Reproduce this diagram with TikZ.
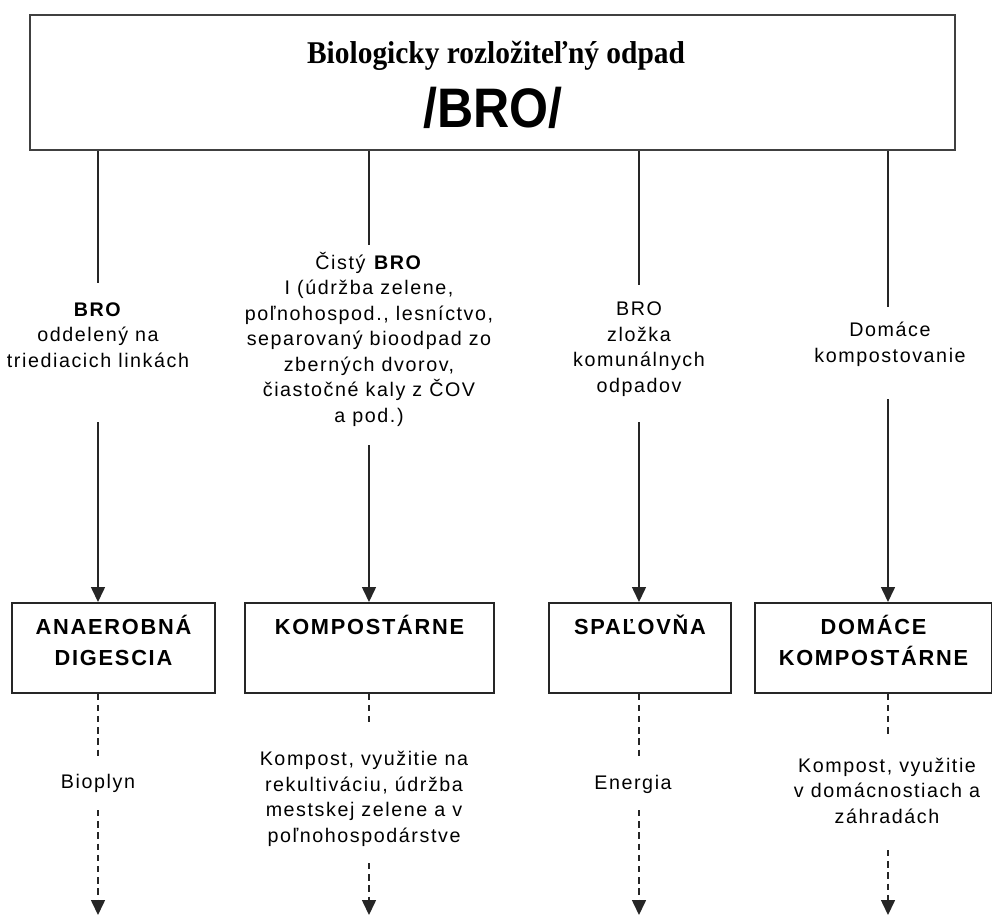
\documentclass[tikz,border=0pt]{standalone}
\usepackage{fontspec}
\setmainfont{Liberation Sans}[LetterSpace=8]
\newfontfamily\titlefont{Liberation Serif}[FakeStretch=0.93]
\newfontfamily\abbrfont{Liberation Sans}[FakeStretch=0.9]
\usetikzlibrary{arrows.meta}
\tikzset{
  hlavny/.style={draw=black!75, line width=1.5pt, inner sep=0pt},
  zariadenie/.style={draw=black!85, line width=1.1pt, inner sep=0pt, anchor=north, align=center,
    text height=0.8cm, text depth=1.45cm,
    font=\addfontfeatures{LetterSpace=8}\bfseries\fontsize{15.5}{22}\selectfont},
  dvariadky/.style={text height=1.575cm, text depth=0.675cm},
  popis/.style={anchor=base, align=center, inner sep=0pt, font=\fontsize{14}{18.1}\selectfont},
  tok/.style={draw=black!85, line width=1.1pt},
  sipka/.style={tok, -{Triangle[width=0.35cm,length=0.375cm]}},
  vystup/.style={sipka, dash pattern=on 0.16cm off 0.12cm},
}
\begin{document}
\begin{tikzpicture}[x=0.025cm, y=-0.025cm]
\useasboundingbox (0,0) rectangle (992,916);
% Biologicky rozlozitelny odpad a jeho spracovanie
\node[hlavny, minimum width=23.125cm, minimum height=3.375cm] (bro) at (492.5,82.5) {};
\node[anchor=base, font=\titlefont\bfseries\fontsize{22.5}{27}\selectfont] (nazov) at (496,63) {Biologicky rozložiteľný odpad};
\node[anchor=base, font=\abbrfont\bfseries\fontsize{39.6}{45}\selectfont] (skratka) at (493,127) {/BRO/};

% popisy nad zariadeniami (base = posledny riadok)
\node[popis] (zdroj1) at (98,367) {\textbf{BRO}\\oddelený na\\triediacich linkách};
\node[popis] (zdroj2) at (369,422) {Čistý \textbf{BRO}\\I (údržba zelene,\\poľnohospod., lesníctvo,\\separovaný bioodpad zo\\zberných dvorov,\\čiastočné kaly z ČOV\\a pod.)};
\node[popis] (zdroj3) at (639,392) {BRO\\zložka\\komunálnych\\odpadov};
\node[popis] (zdroj4) at (890,362) {Domáce\\kompostovanie};

\node[zariadenie, dvariadky, minimum width=5.075cm] (anaer) at (113.5,602) {ANAEROBNÁ\\DIGESCIA};
\node[zariadenie, minimum width=6.225cm] (komp) at (369.5,602) {KOMPOSTÁRNE};
\node[zariadenie, minimum width=4.55cm] (spal) at (640,602) {SPAĽOVŇA};
\node[zariadenie, dvariadky, minimum width=5.925cm] (domkomp) at (873.5,602) {DOMÁCE\\KOMPOSTÁRNE};

\node[popis] (vystup1) at (98,788) {Bioplyn};
\node[popis] (vystup2) at (364,842) {Kompost, využitie na\\rekultiváciu, údržba\\mestskej zelene a v\\poľnohospodárstve};
\node[popis] (vystup3) at (633,789) {Energia};
\node[popis] (vystup4) at (887,823) {Kompost, využitie\\v domácnostiach a\\záhradách};

\coordinate (a1) at (98,283);  \coordinate (b1) at (98,422);
\coordinate (a2) at (369,245); \coordinate (b2) at (369,445);
\coordinate (a3) at (639,285); \coordinate (b3) at (639,422);
\coordinate (a4) at (888,307); \coordinate (b4) at (888,399);

\draw[tok] (bro.south -| a1) -- (a1);
\draw[tok] (bro.south -| a2) -- (a2);
\draw[tok] (bro.south -| a3) -- (a3);
\draw[tok] (bro.south -| a4) -- (a4);
\draw[sipka] (b1) -- (anaer.north -| b1);
\draw[sipka] (b2) -- (komp.north -| b2);
\draw[sipka] (b3) -- (spal.north -| b3);
\draw[sipka] (b4) -- (domkomp.north -| b4);

\coordinate (c1) at (98,760);  \coordinate (d1) at (98,810);  \coordinate (e1) at (98,915);
\coordinate (c2) at (369,725); \coordinate (d2) at (369,863); \coordinate (e2) at (369,915);
\coordinate (c3) at (639,760); \coordinate (d3) at (639,810); \coordinate (e3) at (639,915);
\coordinate (c4) at (888,735); \coordinate (d4) at (888,850); \coordinate (e4) at (888,915);

\draw[tok, dash pattern=on 0.16cm off 0.12cm] (anaer.south -| c1) -- (c1);
\draw[tok, dash pattern=on 0.16cm off 0.12cm] (komp.south -| c2) -- (c2);
\draw[tok, dash pattern=on 0.16cm off 0.12cm] (spal.south -| c3) -- (c3);
\draw[tok, dash pattern=on 0.16cm off 0.12cm] (domkomp.south -| c4) -- (c4);
\draw[vystup] (d1) -- (e1);
\draw[vystup] (d2) -- (e2);
\draw[vystup] (d3) -- (e3);
\draw[vystup] (d4) -- (e4);
\end{tikzpicture}
\end{document}
